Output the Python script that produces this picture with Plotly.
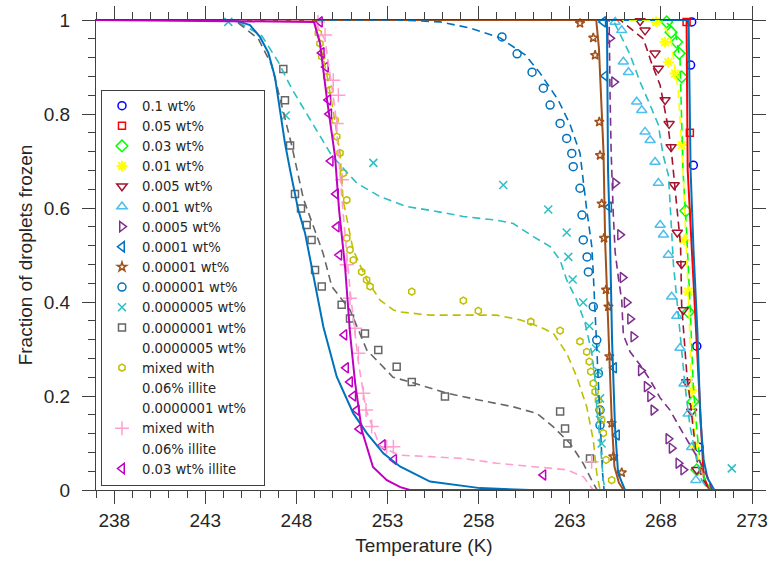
import plotly.graph_objects as go

# ---------------- marker data (temperature K, fraction frozen) ----------------
labels = ["0.1 wt%", "0.05 wt%", "0.03 wt%", "0.01 wt%", "0.005 wt%", "0.001 wt%",
          "0.0005 wt%", "0.0001 wt%", "0.00001 wt%", "0.000001 wt%", "0.0000005 wt%\u00a0\u00a0\u00a0",
          "0.0000001 wt%"]

T_1e_1 = [269.69, 269.63, 269.78, 269.97, 270.09]
F_1e_1 = [0.996, 0.904, 0.691, 0.306, 0.091]

T_5e_2 = [269.41, 269.59]
F_5e_2 = [0.996, 0.760]

T_3e_2 = [268.32, 268.56, 268.87, 269.0, 269.14, 269.37, 269.51, 269.76, 269.97]
F_3e_2 = [0.996, 0.974, 0.953, 0.929, 0.879, 0.594, 0.379, 0.188, 0.043]

T_1e_2 = [267.74, 268.23, 268.41, 268.78, 269.14, 269.27, 269.51, 269.69, 269.87]
F_1e_2 = [0.996, 0.953, 0.910, 0.886, 0.734, 0.532, 0.422, 0.213, 0.092]

T_5e_3 = [266.86, 267.13, 267.68, 267.86, 268.23, 268.45, 268.56, 268.73, 268.90, 269.14,
          269.23, 269.42, 269.69, 269.97]
F_5e_3 = [0.998, 0.978, 0.929, 0.897, 0.830, 0.779, 0.730, 0.649, 0.548, 0.481,
          0.383, 0.230, 0.167, 0.043]

T_1e_3 = [265.49, 265.85, 265.94, 266.22, 266.67, 266.95, 267.13, 267.41, 267.68, 267.86,
          267.96, 268.14, 268.41, 268.59, 268.87, 269.05, 269.27, 269.49, 269.69, 269.92]
F_1e_3 = [0.996, 0.978, 0.911, 0.889, 0.826, 0.808, 0.762, 0.744, 0.698, 0.653,
          0.564, 0.543, 0.500, 0.411, 0.370, 0.302, 0.226, 0.162, 0.091, 0.021]

T_5e_4 = [265.21, 265.43, 265.49, 265.76, 265.90, 266.12, 266.31, 266.49, 266.90, 267.22,
          267.41, 267.59, 268.41, 268.59, 268.96, 269.23]
F_5e_4 = [0.961, 0.868, 0.653, 0.543, 0.452, 0.399, 0.364, 0.326, 0.254, 0.220,
          0.199, 0.170, 0.109, 0.089, 0.057, 0.043]

T_1e_4 = [264.84, 264.94, 265.16, 265.43, 265.59]
F_1e_4 = [0.996, 0.881, 0.602, 0.260, 0.117]

T_1e_5 = [263.56, 264.29, 264.39, 264.62, 264.66, 264.75, 264.88, 264.99, 265.12, 265.17,
          265.30, 265.39, 265.85]
F_1e_5 = [0.993, 0.962, 0.925, 0.783, 0.712, 0.609, 0.536, 0.426, 0.390, 0.284,
          0.142, 0.071, 0.037]

T_1e_6 = [259.28, 260.11, 260.93, 261.55, 261.92, 262.47, 262.83, 263.11, 263.19, 263.56,
          263.67, 263.74, 263.95, 264.02, 264.29, 264.48, 264.57, 264.66, 264.66]
F_1e_6 = [0.964, 0.928, 0.889, 0.855, 0.819, 0.780, 0.748, 0.716, 0.688, 0.642,
          0.585, 0.532, 0.496, 0.464, 0.390, 0.319, 0.248, 0.170, 0.138]

T_5e_7 = [244.26, 247.41, 252.22, 259.35, 261.82, 262.83, 262.92, 263.16, 263.74, 264.07,
          264.44, 264.57, 264.66, 264.66, 264.75, 271.89]
F_5e_7 = [0.996, 0.797, 0.696, 0.649, 0.597, 0.548, 0.496, 0.448, 0.399, 0.349,
          0.301, 0.252, 0.195, 0.149, 0.099, 0.046]

T_1e_7 = [247.28, 247.37, 247.65, 247.92, 248.25, 248.56, 248.83, 249.02, 249.39, 250.48,
          250.94, 251.76, 252.49, 253.50, 254.33, 256.15, 262.47, 262.74, 262.87, 264.11]
F_1e_7 = [0.896, 0.829, 0.733, 0.630, 0.599, 0.564, 0.532, 0.468, 0.433, 0.394,
          0.365, 0.333, 0.298, 0.262, 0.230, 0.199, 0.167, 0.131, 0.099, 0.067]

T_5e_7_ill = [249.20, 249.29, 249.39, 249.66, 249.84, 250.12, 250.21, 250.39, 250.57, 250.76,
              250.76, 250.94, 251.12, 251.58, 251.85, 252.04, 254.33, 257.16, 257.98, 260.86,
              262.47, 263.56, 263.93, 264.07, 264.15, 264.29, 264.39, 264.57, 264.66, 264.75,
              264.84, 264.99, 265.30]
F_5e_7_ill = [0.972, 0.950, 0.922, 0.879, 0.851, 0.787, 0.752, 0.717, 0.674, 0.617,
              0.536, 0.511, 0.489, 0.464, 0.447, 0.433, 0.422, 0.403, 0.381, 0.358,
              0.339, 0.316, 0.294, 0.273, 0.252, 0.227, 0.209, 0.191, 0.170, 0.149,
              0.121, 0.064, 0.021]

T_1e_7_ill = [249.18, 249.57, 250.02, 250.30, 250.21, 250.50, 250.76, 250.94, 251.22, 251.40,
              251.67, 251.82, 252.13, 252.95, 253.32, 264.20]
F_1e_7_ill = [0.996, 0.968, 0.872, 0.840, 0.780, 0.660, 0.479, 0.408, 0.344, 0.291,
              0.206, 0.170, 0.135, 0.092, 0.092, 0.060]

T_ill = [249.29, 249.39, 249.62, 249.75, 249.80, 249.88, 250.17, 250.21, 250.35, 250.63,
         250.72, 250.94, 251.12, 251.31, 251.45, 252.74, 253.36, 261.55]
F_ill = [0.996, 0.93, 0.90, 0.83, 0.80, 0.70, 0.63, 0.56, 0.50, 0.33,
         0.26, 0.23, 0.20, 0.17, 0.13, 0.096, 0.065, 0.032]

# ---------------- fitted curves ----------------
LT_1e_1 = [237, 269.52, 269.63, 269.79, 270.0, 270.17, 270.35, 270.55, 270.93, 273]
LF_1e_1 = [1, 1, 0.681, 0.511, 0.34, 0.149, 0.064, 0.026, 0, 0]
LT_5e_2 = [268.29, 269.41, 269.47, 269.70, 269.89, 270.17, 270.35, 270.61, 270.83, 273]
LF_5e_2 = [1, 1, 0.681, 0.515, 0.357, 0.149, 0.028, 0.004, 0, 0]
LT_3e_2 = [237, 268.12, 268.78, 269.05, 269.21, 269.41, 269.60, 269.78, 269.97, 270.14, 270.42, 270.8, 273]
LF_3e_2 = [1, 1, 0.979, 0.915, 0.681, 0.549, 0.394, 0.220, 0.128, 0.064, 0.021, 0, 0]
LT_1e_2 = [237, 267.85, 268.5, 268.95, 269.19, 269.33, 269.45, 269.56, 269.67, 269.87, 270.14, 270.42, 270.7, 273]
LF_1e_2 = [1, 1, 0.968, 0.851, 0.702, 0.585, 0.468, 0.362, 0.223, 0.113, 0.043, 0.009, 0, 0]
LT_5e_3 = [237, 265.76, 267.04, 267.50, 267.96, 268.41, 268.60, 268.87, 269.08, 269.14, 269.33,
           269.42, 269.60, 269.79, 269.97, 270.24, 270.52, 270.7, 273]
LF_5e_3 = [1, 1, 0.960, 0.907, 0.861, 0.769, 0.712, 0.613, 0.521, 0.394, 0.305,
           0.248, 0.191, 0.128, 0.064, 0.028, 0.007, 0, 0]
LT_1e_3 = [237, 265.38, 266.31, 266.86, 267.41, 267.86, 268.12, 268.41, 268.50, 268.59, 268.69,
           268.87, 269.05, 269.33, 269.60, 269.97, 270.24, 270.53, 270.7, 273]
LF_1e_3 = [1, 1, 0.926, 0.868, 0.819, 0.777, 0.713, 0.670, 0.613, 0.550, 0.479,
           0.408, 0.333, 0.220, 0.135, 0.064, 0.021, 0.004, 0, 0]
LT_5e_4 = [237, 265.16, 265.21, 265.27, 265.39, 265.49, 265.67, 265.85, 265.94, 266.31, 266.86,
           267.41, 267.96, 268.50, 269.05, 269.60, 270.14, 270.58, 270.8, 273]
LF_5e_4 = [1, 1, 0.840, 0.719, 0.585, 0.506, 0.451, 0.404, 0.330, 0.294, 0.266,
           0.234, 0.196, 0.170, 0.132, 0.096, 0.060, 0.026, 0, 0]
LT_1e_4 = [237, 265.04, 265.10, 265.21, 265.32, 265.48, 265.65, 266.03, 273]
LF_1e_4 = [1, 1, 0.68, 0.532, 0.319, 0.136, 0.036, 0, 0]
LT_1e_5 = [237, 264.45, 264.6, 264.85, 264.94, 265.12, 265.30, 265.45, 265.7, 265.95, 273]
LF_1e_5 = [1, 1, 0.94, 0.72, 0.53, 0.32, 0.15, 0.05, 0.015, 0, 0]
LT_1e_6 = [237, 253.68, 255.88, 257.53, 259.17, 260.55, 261.37, 262.36, 263.02, 263.56, 263.93,
           264.21, 264.29, 264.39, 264.48, 264.57, 264.66, 264.75, 264.80, 264.88, 273]
LF_1e_6 = [1, 1, 0.996, 0.983, 0.962, 0.926, 0.887, 0.830, 0.777, 0.717, 0.596,
           0.518, 0.461, 0.376, 0.291, 0.220, 0.163, 0.092, 0.036, 0, 0]
LT_5e_7 = [237, 244.6, 246.09, 247.0, 247.74, 248.83, 249.93, 251.31, 252.59, 254.05, 255.51,
           257.16, 258.99, 259.90, 261.0, 261.92, 262.47, 262.83, 263.38, 263.84, 264.21,
           264.39, 264.48, 264.66, 264.84, 264.94, 273]
LF_5e_7 = [1, 1, 0.967, 0.911, 0.854, 0.783, 0.712, 0.653, 0.624, 0.603, 0.594,
           0.582, 0.574, 0.567, 0.539, 0.518, 0.489, 0.447, 0.404, 0.355, 0.291,
           0.234, 0.177, 0.106, 0.021, 0, 0]
LT_1e_7 = [237, 244.6, 245.91, 246.64, 247.10, 247.74, 248.38, 249.46, 249.94, 250.94, 251.86,
           253.30, 254.40, 256.25, 258.08, 259.89, 261.19, 262.08, 263.02, 263.73, 264.28,
           264.5, 273]
LF_1e_7 = [1, 1, 0.960, 0.904, 0.833, 0.733, 0.620, 0.504, 0.433, 0.383, 0.298,
           0.240, 0.228, 0.206, 0.191, 0.177, 0.163, 0.135, 0.099, 0.057, 0.015, 0, 0]
LT_5e_7_ill = [237, 248.96, 249.29, 249.68, 250.01, 250.39, 250.56, 251.11, 251.86, 252.59,
               253.32, 253.68, 255.33, 257.16, 258.99, 260.27, 261.37, 262.10, 262.83, 263.38,
               263.93, 264.29, 264.48, 264.66, 273]
LF_5e_7_ill = [1, 1, 0.951, 0.881, 0.809, 0.717, 0.617, 0.511, 0.447, 0.404,
               0.383, 0.379, 0.372, 0.372, 0.372, 0.362, 0.347, 0.333, 0.291, 0.241,
               0.177, 0.106, 0.036, 0, 0]
LT_1e_7_ill = [237, 248.96, 249.57, 250.12, 250.50, 250.94, 251.38, 251.82, 252.59, 253.68,
               255.33, 257.16, 258.99, 260.82, 262.83, 263.75, 264.29, 273]
LF_1e_7_ill = [1, 1, 0.957, 0.809, 0.617, 0.426, 0.277, 0.170, 0.092, 0.074,
               0.071, 0.067, 0.057, 0.050, 0.043, 0.028, 0, 0]
LT_blue_left = [237, 244.3, 244.9, 245.45, 246.0, 246.46, 246.82, 247.10, 247.37, 247.65, 248.10,
                248.47, 248.93, 249.48, 250.21, 251.12, 251.86, 252.77, 253.68, 255.33, 258.08,
                260.8, 273]
LF_blue_left = [1, 1, 0.996, 0.989, 0.964, 0.93, 0.879, 0.809, 0.738, 0.681, 0.596,
                0.547, 0.454, 0.347, 0.241, 0.163, 0.121, 0.078, 0.050, 0.018, 0.004,
                0, 0]
LT_ill = [237, 248.96, 249.29, 249.68, 250.12, 250.34, 250.67, 250.94, 251.22, 251.58, 252.2,
          252.96, 253.7, 254.23, 273]
LF_ill = [1, 0.996, 0.951, 0.83, 0.709, 0.596, 0.474, 0.334, 0.228, 0.128, 0.049,
          0.021, 0.006, 0, 0]

# ---------------- styling ----------------
FONT = "Liberation Sans, Arial, Helvetica, sans-serif"
LFONT = "DejaVu Sans, Liberation Sans, Arial, sans-serif"
TXT = "#262626"
AX = "#404040"
BLUE = "#0072BD"
TEAL = "#2BBFC4"
MAG = "#C000C0"
BROWN = "#A0501A"
OLIVE = "#BFBF00"
PINK = "#FF9ECF"
GRAY = "#666666"
PURPLE = "#7E2F8E"
DRED = "#A2142F"
LBLUE = "#4DBEEE"
DASH = "8px,5px"

fig = go.Figure()


def line(T, F, color, dash="solid", width=2.0):
    fig.add_trace(go.Scatter(x=T, y=F, mode="lines", showlegend=False, hoverinfo="skip",
                             cliponaxis=False,
                             line=dict(color=color, width=width, dash=dash)))


def markers(T, F, name, color, symbol, size=8, lw=1.5):
    fig.add_trace(go.Scatter(x=T, y=F, mode="markers", name=name, cliponaxis=False,
                             marker=dict(symbol=symbol, size=size, color=color,
                                         line=dict(color=color, width=lw))))


def blank(name):
    fig.add_trace(go.Scatter(x=[None], y=[None], mode="markers", name=name,
                             marker=dict(color="rgba(0,0,0,0)", size=1,
                                         line=dict(width=0))))


# markers (legend order)
markers(T_1e_1, F_1e_1, labels[0], "#0000FF", "circle-open")
markers(T_5e_2, F_5e_2, labels[1], "#FF0000", "square-open", size=7)
markers(T_3e_2, F_3e_2, labels[2], "#00FF00", "diamond-open", size=9)
markers(T_1e_2, F_1e_2, labels[3], "#FFFF00", "asterisk-open", size=9, lw=2)
markers(T_5e_3, F_5e_3, labels[4], DRED, "triangle-down-open", size=9)
markers(T_1e_3, F_1e_3, labels[5], LBLUE, "triangle-up-open", size=9)
markers(T_5e_4, F_5e_4, labels[6], PURPLE, "triangle-right-open", size=9)
markers(T_1e_4, F_1e_4, labels[7], BLUE, "triangle-left-open", size=9)
markers(T_1e_5, F_1e_5, labels[8], BROWN, "star-open", size=7)
markers(T_1e_6, F_1e_6, labels[9], BLUE, "circle-open")
markers(T_5e_7, F_5e_7, labels[10], TEAL, "x-thin-open", size=8)
markers(T_1e_7, F_1e_7, labels[11], GRAY, "square-open", size=7)
blank("0.0000005 wt%")
markers(T_5e_7_ill, F_5e_7_ill, "mixed with", OLIVE, "hexagon-open", size=7)
blank("0.06% illite")
blank("0.0000001 wt%")
markers(T_1e_7_ill, F_1e_7_ill, "mixed with", PINK, "cross-thin-open", size=10)
blank("0.06% illite")
markers(T_ill, F_ill, "0.03 wt% illite", MAG, "triangle-left-open", size=9)

# fitted curves
line(LT_5e_2, LF_5e_2, "#FF0000")
line(LT_1e_1, LF_1e_1, BLUE)
line(LT_3e_2, LF_3e_2, "#00FF00", DASH, 1.6)
line(LT_1e_2, LF_1e_2, "#FFFF00", DASH, 1.6)
line(LT_5e_3, LF_5e_3, DRED, DASH, 1.6)
line(LT_1e_3, LF_1e_3, TEAL, DASH, 1.6)
line(LT_5e_4, LF_5e_4, PURPLE, DASH, 1.6)
line(LT_1e_4, LF_1e_4, BLUE)
line(LT_1e_5, LF_1e_5, BROWN)
line(LT_1e_6, LF_1e_6, BLUE, DASH, 1.6)
line(LT_5e_7, LF_5e_7, TEAL, DASH, 1.6)
line(LT_1e_7, LF_1e_7, GRAY, DASH, 1.6)
line(LT_5e_7_ill, LF_5e_7_ill, OLIVE, DASH, 1.6)
line(LT_1e_7_ill, LF_1e_7_ill, PINK, DASH, 1.6)
line(LT_blue_left, LF_blue_left, BLUE)
line(LT_ill, LF_ill, MAG)

axis_common = dict(showline=True, linecolor=AX, linewidth=1, mirror="ticks",
                   ticks="outside", tickcolor=AX, tickwidth=1, ticklen=13,
                   showgrid=False, zeroline=False, automargin=False,
                   tickfont=dict(family=FONT, size=19, color=TXT))

fig.update_layout(
    width=771, height=574,
    margin=dict(l=96, r=19, t=20, b=84, autoexpand=False),
    paper_bgcolor="white", plot_bgcolor="white",
    font=dict(family=FONT, color=TXT),
    xaxis=dict(range=[237, 273], tick0=238, dtick=5,
               minor=dict(dtick=1, ticks="outside", ticklen=7, tickcolor=AX),
               title=dict(text="Temperature (K)", font=dict(family=FONT, size=19, color=TXT),
                          standoff=8),
               **axis_common),
    yaxis=dict(range=[0, 1], dtick=0.2, ticklabelstandoff=8,
               minor=dict(dtick=0.04, ticks="outside", ticklen=7, tickcolor=AX),
               title=dict(text="Fraction of droplets frozen",
                          font=dict(family=FONT, size=19, color=TXT), standoff=6),
               **axis_common),
    legend=dict(x=0.0076, y=0.852, xanchor="left", yanchor="top",
                bgcolor="white", bordercolor=AX, borderwidth=1,
                font=dict(family=LFONT, size=13.2, color=TXT),
                tracegroupgap=0),
    showlegend=True,
)

fig.write_html("out.html")
